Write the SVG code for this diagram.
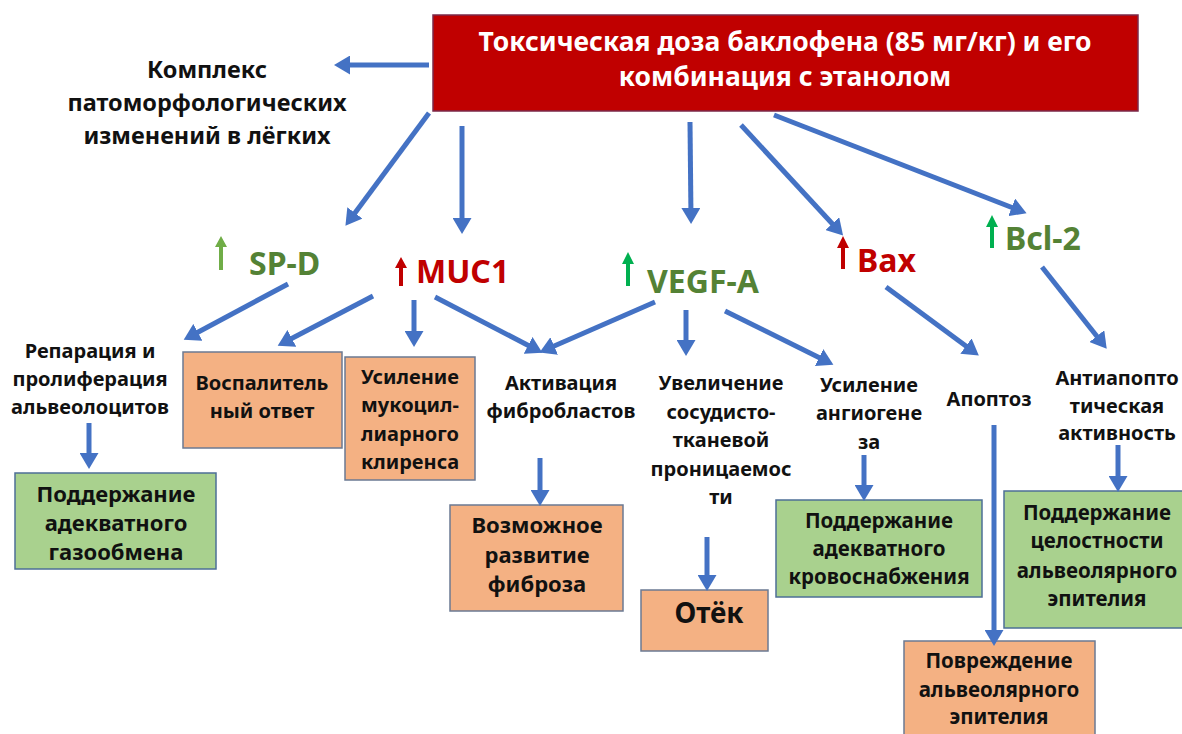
<svg xmlns="http://www.w3.org/2000/svg" width="1182" height="734" viewBox="0 0 1182 734">
<style>
.t{font-family:"Noto Sans","Liberation Sans",sans-serif;font-weight:bold;text-anchor:middle;fill:#111}
.s20{font-size:20px}
.s205{font-size:20.5px}
.s22{font-size:22px}
.title{font-size:26.5px;fill:#fff}
.lbl{font-size:23.5px}
.gene{font-size:32px;text-anchor:start}
.gr{fill:#548235}
.rd{fill:#c00000}
.c{stroke:#4472c4;stroke-width:5;fill:none;marker-end:url(#ah)}
.og{fill:#f4b183;stroke:#6b7a93;stroke-width:1.5}
.gn{fill:#a9d18e;stroke:#4d6f96;stroke-width:1.5}
</style>
<defs>
<marker id="ah" markerUnits="userSpaceOnUse" markerWidth="17" markerHeight="19" refX="10" refY="9.5" orient="auto">
<path d="M0,0 L16,9.5 L0,19 z" fill="#4472c4"/>
</marker>
</defs>
<rect width="1182" height="734" fill="#fff"/>

<g id="root">
<rect x="433" y="15" width="705" height="96" fill="#c00000" stroke="#7b2a4a" stroke-width="1.5"/>
<text class="t title" x="785" y="51">Токсическая доза баклофена (85 мг/кг) и его</text>
<text class="t title" x="785" y="86">комбинация с этанолом</text>
</g>

<g id="complex">
<text class="t lbl" x="207" y="78">Комплекс</text>
<text class="t lbl" x="207" y="111">патоморфологических</text>
<text class="t lbl" x="207" y="144">изменений в лёгких</text>
</g>

<g id="spd">
<path d="M219,270 L219,247 L215,247 L221,236 L227,247 L223,247 L223,270 z" fill="#70ad47"/>
<text class="t gene gr" x="249" y="275">SP-D</text>
</g>
<g id="muc1">
<path d="M399,286 L399,268 L395,268 L401,257 L407,268 L403,268 L403,286 z" fill="#c00000"/>
<text class="t gene rd" x="416" y="283">MUC1</text>
</g>
<g id="vegfa">
<path d="M626,286 L626,264 L622,264 L628,252 L634,264 L630,264 L630,286 z" fill="#00b050"/>
<text class="t gene gr" x="647" y="293">VEGF-A</text>
</g>
<g id="bax">
<path d="M841,269 L841,248 L837,248 L843,236 L849,248 L845,248 L845,269 z" fill="#c00000"/>
<text class="t gene rd" x="857" y="272">Bax</text>
</g>
<g id="bcl2">
<path d="M990,248 L990,227 L986,227 L992,215 L998,227 L994,227 L994,248 z" fill="#00b050"/>
<text class="t gene gr" x="1005" y="250">Bcl-2</text>
</g>

<g id="reparation">
<text class="t s20" x="90" y="358">Репарация и</text>
<text class="t s20" x="90" y="386">пролиферация</text>
<text class="t s20" x="90" y="414">альвеолоцитов</text>
</g>
<g id="gas">
<rect class="gn" x="15" y="473" width="201" height="96"/>
<text class="t s22" x="116" y="502">Поддержание</text>
<text class="t s22" x="116" y="531">адекватного</text>
<text class="t s22" x="116" y="560">газообмена</text>
</g>
<g id="inflam">
<rect class="og" x="183" y="352" width="159" height="96"/>
<text class="t s20" x="262" y="390">Воспалитель</text>
<text class="t s20" x="262" y="418">ный ответ</text>
</g>
<g id="mucocil">
<rect class="og" x="345" y="357" width="130" height="123"/>
<text class="t s20" x="410" y="384">Усиление</text>
<text class="t s20" x="410" y="412">мукоцил-</text>
<text class="t s20" x="410" y="441">лиарного</text>
<text class="t s20" x="410" y="469">клиренса</text>
</g>
<g id="fibroblast">
<text class="t s20" x="561" y="390">Активация</text>
<text class="t s20" x="561" y="418">фибробластов</text>
</g>
<g id="fibrosis">
<rect class="og" x="450" y="505" width="173" height="106"/>
<text class="t s22" x="537" y="533">Возможное</text>
<text class="t s22" x="537" y="563">развитие</text>
<text class="t s22" x="537" y="592">фиброза</text>
</g>
<g id="permeab">
<text class="t s20" x="721" y="390">Увеличение</text>
<text class="t s20" x="721" y="419">сосудисто-</text>
<text class="t s20" x="721" y="447">тканевой</text>
<text class="t s20" x="721" y="476">проницаемос</text>
<text class="t s20" x="721" y="504">ти</text>
</g>
<g id="edema">
<rect class="og" x="641" y="590" width="127" height="61"/>
<text class="t" style="font-size:28px" x="709" y="623">Отёк</text>
</g>
<g id="angio">
<text class="t s20" x="869" y="392">Усиление</text>
<text class="t s20" x="869" y="420">ангиогене</text>
<text class="t s20" x="869" y="449">за</text>
</g>
<g id="blood">
<rect class="gn" x="776" y="500" width="206" height="97"/>
<text class="t s205" x="879" y="528">Поддержание</text>
<text class="t s205" x="879" y="556">адекватного</text>
<text class="t s205" x="879" y="584">кровоснабжения</text>
</g>
<g id="apoptosis">
<text class="t s20" x="989" y="406">Апоптоз</text>
</g>
<g id="damage">
<rect class="og" x="904" y="641" width="191" height="100"/>
<text class="t s205" x="999" y="668">Повреждение</text>
<text class="t s205" x="999" y="697">альвеолярного</text>
<text class="t s205" x="999" y="724">эпителия</text>
</g>
<g id="antiapop">
<text class="t s20" x="1117" y="385">Антиапопто</text>
<text class="t s20" x="1117" y="413">тическая</text>
<text class="t s20" x="1117" y="440">активность</text>
</g>
<g id="integrity">
<rect class="gn" x="1004" y="491" width="186" height="137"/>
<text class="t s205" x="1097" y="520">Поддержание</text>
<text class="t s205" x="1097" y="548">целостности</text>
<text class="t s205" x="1097" y="578">альвеолярного</text>
<text class="t s205" x="1097" y="606">эпителия</text>
</g>

<g id="connectors">
<line class="c" x1="429" y1="65" x2="340" y2="65"/>
<line class="c" x1="429" y1="113" x2="349" y2="221"/>
<line class="c" x1="462" y1="126" x2="462" y2="228"/>
<line class="c" x1="690" y1="122" x2="691" y2="218"/>
<line class="c" x1="741" y1="125" x2="839" y2="231"/>
<line class="c" x1="774" y1="115" x2="1021" y2="211"/>
<line class="c" x1="288" y1="284" x2="189" y2="337"/>
<line class="c" x1="373" y1="296" x2="283" y2="343"/>
<line class="c" x1="414" y1="300" x2="414" y2="341"/>
<line class="c" x1="435" y1="297" x2="537" y2="350"/>
<line class="c" x1="655" y1="302" x2="545" y2="350"/>
<line class="c" x1="686" y1="310" x2="686" y2="350"/>
<line class="c" x1="725" y1="311" x2="828" y2="362"/>
<line class="c" x1="886" y1="287" x2="974" y2="352"/>
<line class="c" x1="1042" y1="267" x2="1103" y2="344"/>
<line class="c" x1="89" y1="423" x2="89" y2="463"/>
<line class="c" x1="540" y1="458" x2="540" y2="500"/>
<line class="c" x1="707" y1="537" x2="707" y2="585"/>
<line class="c" x1="864" y1="455" x2="864" y2="495"/>
<line class="c" x1="994" y1="425" x2="994" y2="640"/>
<line class="c" x1="1118" y1="445" x2="1118" y2="486"/>
</g>
</svg>
